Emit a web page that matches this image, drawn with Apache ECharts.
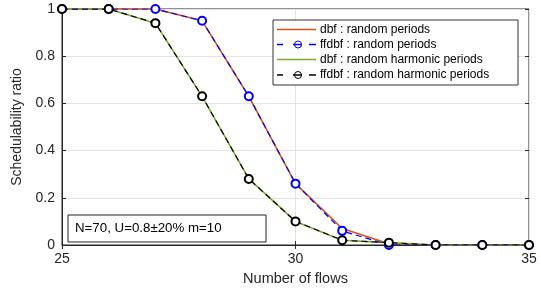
<!DOCTYPE html>
<html><head><meta charset="utf-8">
<script src="https://cdn.jsdelivr.net/npm/echarts@6/dist/echarts.min.js"></script>
<style>html,body{margin:0;padding:0;background:#fff}#c{width:541px;height:291px}</style>
</head><body><div id="c"></div>
<script>
const flows = [25,26,27,28,29,30,31,32,33,34,35];
const dbfRandom = [1,1,1,0.95,0.63,0.26,0.07,0.005,0,0,0];
const ffdbfRandom = [1,1,1,0.95,0.63,0.26,0.06,0,0,0,0];
const dbfHarmonic = [1,1,0.94,0.63,0.28,0.10,0.02,0.01,0,0,0];
const ffdbfHarmonic = [1,1,0.94,0.63,0.28,0.10,0.02,0.01,0,0,0];
const seriesNames = ['dbf : random periods','ffdbf : random periods','dbf : random harmonic periods','ffdbf : random harmonic periods'];
const seriesColors = ['#D95319','#0000FF','#77AC30','#000000'];
const seriesDashed = [false,true,false,true];
const note = 'N=70, U=0.8±20% m=10';

const pairs = a => flows.map((x,i)=>[x,a[i]]);
const font = 'Liberation Sans, Arial, sans-serif';
const tc = '#262626';
const Z = 100;

// manual legend (graphic)
const legendChildren = [{type:'rect',z:Z,shape:{x:0,y:0,width:245,height:65},style:{fill:'#fff',stroke:'#333',lineWidth:1}}];
const rowY = [9.5,24.5,39.5,55];
seriesNames.forEach((n,i)=>{
  const y = rowY[i], c = seriesColors[i];
  if(!seriesDashed[i]){
    legendChildren.push({type:'line',z:Z+1,shape:{x1:4,y1:y,x2:43,y2:y},style:{stroke:c,lineWidth:1.5}});
  } else {
    [[4,10],[20,29],[36,43]].forEach(s=>legendChildren.push({type:'line',z:Z+1,shape:{x1:s[0],y1:y,x2:s[1],y2:y},style:{stroke:c,lineWidth:1.5}}));
    legendChildren.push({type:'circle',z:Z+1,shape:{cx:25,cy:y,r:3.5},style:{fill:'none',stroke:c,lineWidth:1}});
  }
  legendChildren.push({type:'text',z:Z+1,x:47,y:y,style:{text:n,fill:'#000',font:'12px '+font,verticalAlign:'middle',align:'left'}});
});

const chart = echarts.init(document.getElementById('c'));
chart.setOption({
  animation:false,
  textStyle:{fontFamily:font},
  grid:{left:62,right:12,top:9,bottom:46,show:true,borderColor:tc,borderWidth:1},
  xAxis:[{type:'value',min:25,max:35,interval:5,
    name:'Number of flows',nameLocation:'middle',nameGap:26,
    nameTextStyle:{color:tc,fontSize:14.5,fontFamily:font},
    axisLine:{lineStyle:{color:tc}},axisTick:{inside:true,length:4,lineStyle:{color:tc}},
    axisLabel:{color:tc,fontSize:14,margin:7,fontFamily:font},
    splitLine:{show:true,lineStyle:{color:'#e3e3e3'}}},
    {type:'value',position:'top',min:25,max:35,interval:5,
    axisLine:{show:false},axisTick:{inside:true,length:4,lineStyle:{color:tc}},
    axisLabel:{show:false},splitLine:{show:false}}],
  yAxis:[{type:'value',min:0,max:1,interval:0.2,
    name:'Schedulability ratio',nameLocation:'middle',nameGap:31,
    nameTextStyle:{color:tc,fontSize:14,fontFamily:font},
    axisLine:{show:true,lineStyle:{color:tc}},axisTick:{show:true,inside:true,length:4,lineStyle:{color:tc}},
    axisLabel:{color:tc,fontSize:14,margin:7,fontFamily:font},
    splitLine:{show:true,lineStyle:{color:'#e3e3e3'}}},
    {type:'value',position:'right',min:0,max:1,interval:0.2,
    axisLine:{show:false},axisTick:{show:true,inside:true,length:4,lineStyle:{color:tc}},
    axisLabel:{show:false},splitLine:{show:false}}],
  graphic:[
    {type:'group',x:273,y:20,z:Z,children:legendChildren},
    {type:'group',x:68,y:215,z:Z,children:[
      {type:'rect',z:Z,shape:{x:0,y:0,width:198,height:27},style:{fill:'#fff',stroke:'#222',lineWidth:1}},
      {type:'text',z:Z+1,x:7,y:13.5,style:{text:note,fill:'#000',font:'13.3px '+font,verticalAlign:'middle'}}]}],
  series:[
    {name:seriesNames[0],type:'line',data:pairs(dbfRandom),symbol:'none',
      lineStyle:{color:seriesColors[0],width:1.6},itemStyle:{color:seriesColors[0]},z:2},
    {name:seriesNames[1],type:'line',data:pairs(ffdbfRandom),symbol:'emptyCircle',symbolSize:8,showSymbol:true,
      lineStyle:{color:seriesColors[1],width:1.2,type:[6,4]},itemStyle:{color:seriesColors[1],borderColor:seriesColors[1],borderWidth:0.9},z:3},
    {name:seriesNames[2],type:'line',data:pairs(dbfHarmonic),symbol:'none',
      lineStyle:{color:seriesColors[2],width:1.6},itemStyle:{color:seriesColors[2]},z:2},
    {name:seriesNames[3],type:'line',data:pairs(ffdbfHarmonic),symbol:'emptyCircle',symbolSize:8,showSymbol:true,
      lineStyle:{color:seriesColors[3],width:1.2,type:[6,4]},itemStyle:{color:seriesColors[3],borderColor:seriesColors[3],borderWidth:0.9},z:4}
  ]
});
</script></body></html>
